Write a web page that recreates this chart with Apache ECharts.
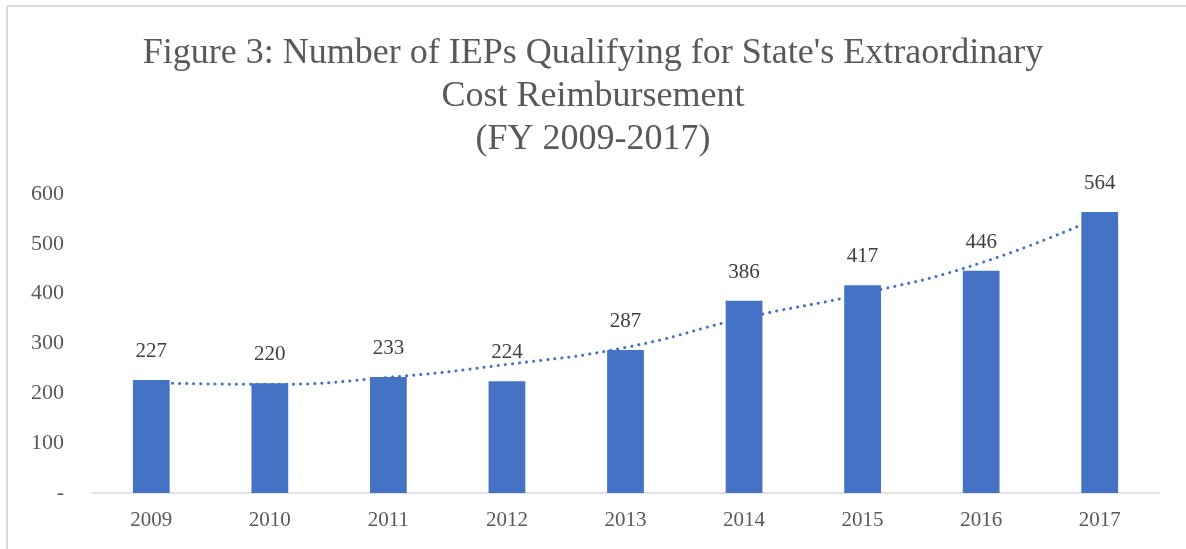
<!DOCTYPE html>
<html>
<head>
<meta charset="utf-8">
<script src="https://cdn.jsdelivr.net/npm/echarts@6/dist/echarts.min.js"></script>
<style>
  html, body { margin: 0; padding: 0; background: #fff; }
  #chart { width: 1186px; height: 549px; }
</style>
</head>
<body>
<div id="chart"></div>
<script>
// 数据
const years = ['2009', '2010', '2011', '2012', '2013', '2014', '2015', '2016', '2017']
const iepCounts = [227, 220, 233, 224, 287, 386, 417, 446, 564]
// 趋势线
const trendValues = [221, 218, 232, 258, 292, 351, 400, 462, 554]

const FONT = '"Liberation Serif", "DejaVu Serif", serif'
const BLUE = '#4472C4'

const chart = echarts.init(document.getElementById('chart'))

chart.setOption({
  backgroundColor: '#fff',
  animation: false,
  title: {
    text: "Figure 3: Number of IEPs Qualifying for State's Extraordinary\nCost Reimbursement\n(FY 2009-2017)",
    left: 'center',
    top: 27,
    textStyle: {
      fontFamily: FONT,
      fontSize: 36,
      fontWeight: 'normal',
      color: '#595959',
      lineHeight: 43
    }
  },
  graphic: [
    // 外框（只有上、左边）
    { type: 'line', shape: { x1: 7, y1: 6, x2: 1186, y2: 6 }, style: { stroke: '#d9d9d9', lineWidth: 2 } },
    { type: 'line', shape: { x1: 7, y1: 6, x2: 7, y2: 549 }, style: { stroke: '#d9d9d9', lineWidth: 2 } }
  ],
  grid: { left: 92, right: 27, top: 194, bottom: 56, containLabel: false },
  xAxis: {
    type: 'category',
    data: years,
    axisTick: { show: false },
    axisLine: { lineStyle: { color: '#d9d9d9', width: 1.5 } },
    axisLabel: { fontFamily: FONT, fontSize: 21, color: '#595959', margin: 17 }
  },
  yAxis: {
    type: 'value',
    min: 0,
    max: 600,
    interval: 100,
    splitLine: { show: false },
    axisLine: { show: false },
    axisTick: { show: false },
    axisLabel: {
      fontFamily: FONT,
      fontSize: 22,
      color: '#595959',
      margin: 28,
      formatter: (v) => (v === 0 ? '-' : String(v))
    }
  },
  series: [
    {
      type: 'line',
      data: trendValues,
      smooth: true,
      symbol: 'none',
      z: 1,
      lineStyle: { color: BLUE, width: 3, type: [0.1, 7], cap: 'round' }
    },
    {
      type: 'bar',
      data: iepCounts,
      barWidth: '31%',
      z: 2,
      itemStyle: { color: BLUE },
      label: {
        show: true,
        position: 'top',
        distance: 18,
        fontFamily: FONT,
        fontSize: 21,
        color: '#404040'
      }
    }
  ]
})
</script>
</body>
</html>
